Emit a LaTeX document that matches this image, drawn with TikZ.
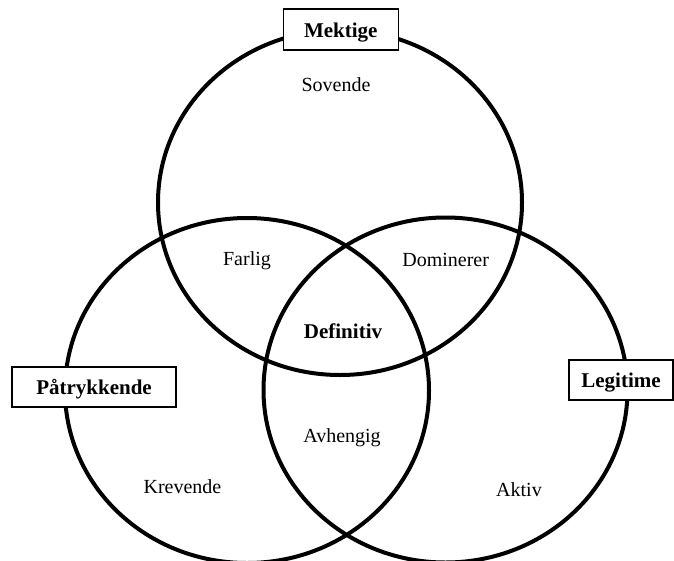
\documentclass[tikz,border=0pt]{standalone}
\usepackage{fontspec}
\setmainfont{Liberation Serif}
\begin{document}
\begin{tikzpicture}[x=1pt,y=-1pt,
  ring/.style={line width=4pt},
  rolebox/.style={draw=black, line width=1.2pt, fill=white, inner sep=0pt,
    font=\fontsize{21}{24}\selectfont\bfseries, text height=15pt, text depth=0pt},
  zone/.style={anchor=base, inner sep=0pt, font=\fontsize{20}{24}\selectfont},
  corezone/.style={zone, font=\fontsize{21}{24}\selectfont\bfseries}]
  \useasboundingbox[fill=white] (0,0) rectangle (674,560);

  % the three stakeholder attributes
  \draw[ring] (340,202.5) ellipse [x radius=182pt, y radius=172.5pt];
  \draw[ring] (247,390.5) ellipse [x radius=182pt, y radius=172.5pt];
  \draw[ring] (445.5,390) ellipse [x radius=182pt, y radius=172.5pt];

  % attribute labels
  \node[rolebox, minimum width=115pt, minimum height=41pt] (mektige) at (340.8,29.5) {Mektige};
  \node[rolebox, minimum width=164pt, minimum height=40pt] (patrykkende) at (94,387) {Påtrykkende};
  \node[rolebox, minimum width=104pt, minimum height=40pt] (legitime) at (621,380) {Legitime};

  % stakeholder classes
  \node[zone] (sovende) at (336,91) {Sovende};
  \node[zone] (farlig) at (247,265.5) {Farlig};
  \node[zone] (dominerer) at (445.7,266.5) {Dominerer};
  \node[corezone] (definitiv) at (343,338) {Definitiv};
  \node[zone] (avhengig) at (342,442) {Avhengig};
  \node[zone] (krevende) at (182.5,493) {Krevende};
  \node[zone] (aktiv) at (519,496) {Aktiv};
\end{tikzpicture}
\end{document}
